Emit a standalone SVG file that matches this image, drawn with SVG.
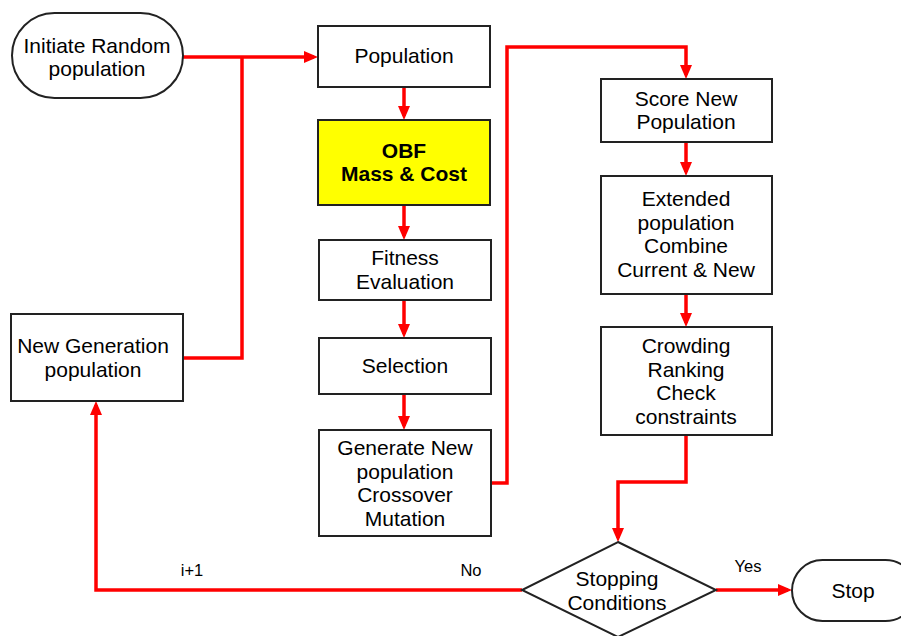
<svg xmlns="http://www.w3.org/2000/svg" width="901" height="636" viewBox="0 0 901 636">
<style>
.box{fill:#fff;stroke:#222;stroke-width:2}
.obf{fill:#ffff00;stroke:#222;stroke-width:2}
.t{font-family:"Liberation Sans",Arial,sans-serif;font-size:21px;fill:#000;text-anchor:middle}
.b{font-weight:bold}
.l{font-family:"Liberation Sans",Arial,sans-serif;font-size:16.5px;fill:#000;text-anchor:middle}
.c{fill:none;stroke:#ff0000;stroke-width:3.5}
</style>
<defs>
<marker id="ah" markerUnits="userSpaceOnUse" viewBox="0 0 14 12" markerWidth="14" markerHeight="12" refX="10" refY="6" orient="auto">
<path d="M0,0 L14,6 L0,12 z" fill="#ff0000"/>
</marker>
</defs>
<rect width="901" height="636" fill="#fff"/>
<g id="connectors">
<path class="c" d="M183,57 H314" marker-end="url(#ah)"/>
<path class="c" d="M183,358 H242 V57"/>
<path class="c" d="M404,87 V116" marker-end="url(#ah)"/>
<path class="c" d="M404,205 V236" marker-end="url(#ah)"/>
<path class="c" d="M404,300 V334" marker-end="url(#ah)"/>
<path class="c" d="M404,394 V426" marker-end="url(#ah)"/>
<path class="c" d="M491,483 H507 V47 H686 V75" marker-end="url(#ah)"/>
<path class="c" d="M686,142 V172" marker-end="url(#ah)"/>
<path class="c" d="M686,294 V323" marker-end="url(#ah)"/>
<path class="c" d="M686,435 V482 H618 V538" marker-end="url(#ah)"/>
<path class="c" d="M716,590 H788" marker-end="url(#ah)"/>
<path class="c" d="M522,590 H96 V405" marker-end="url(#ah)"/>
</g>
<g id="initiate">
<rect class="box" x="12" y="13" width="171" height="85" rx="42.5"/>
<text class="t" x="97" y="53">Initiate Random</text>
<text class="t" x="97" y="76">population</text>
</g>
<g id="population">
<rect class="box" x="318" y="26" width="172" height="61"/>
<text class="t" x="404" y="63">Population</text>
</g>
<g id="obf">
<rect class="obf" x="318" y="120" width="172" height="85"/>
<text class="t b" x="404" y="158">OBF</text>
<text class="t b" x="404" y="181">Mass &amp; Cost</text>
</g>
<g id="fitness">
<rect class="box" x="319" y="240" width="172" height="60"/>
<text class="t" x="405" y="265">Fitness</text>
<text class="t" x="405" y="289">Evaluation</text>
</g>
<g id="selection">
<rect class="box" x="319" y="338" width="172" height="56"/>
<text class="t" x="405" y="373">Selection</text>
</g>
<g id="generate">
<rect class="box" x="319" y="430" width="172" height="106"/>
<text class="t" x="405" y="455">Generate New</text>
<text class="t" x="405" y="479">population</text>
<text class="t" x="405" y="502">Crossover</text>
<text class="t" x="405" y="526">Mutation</text>
</g>
<g id="score">
<rect class="box" x="601" y="79" width="171" height="63"/>
<text class="t" x="686" y="106">Score New</text>
<text class="t" x="686" y="129">Population</text>
</g>
<g id="extended">
<rect class="box" x="601" y="176" width="171" height="118"/>
<text class="t" x="686" y="206">Extended</text>
<text class="t" x="686" y="230">population</text>
<text class="t" x="686" y="253">Combine</text>
<text class="t" x="686" y="277">Current &amp; New</text>
</g>
<g id="crowding">
<rect class="box" x="601" y="327" width="171" height="108"/>
<text class="t" x="686" y="353">Crowding</text>
<text class="t" x="686" y="377">Ranking</text>
<text class="t" x="686" y="400">Check</text>
<text class="t" x="686" y="424">constraints</text>
</g>
<g id="newgen">
<rect class="box" x="11" y="314" width="172" height="87"/>
<text class="t" x="93" y="353">New Generation</text>
<text class="t" x="93" y="377">population</text>
</g>
<g id="stopping">
<polygon class="box" points="618,542 716,590 618,637 522,590"/>
<text class="t" x="617" y="586">Stopping</text>
<text class="t" x="617" y="610">Conditions</text>
</g>
<g id="stop">
<rect class="box" x="792" y="560" width="124" height="61" rx="30.5"/>
<text class="t" x="853" y="598">Stop</text>
</g>
<g id="labels">
<text class="l" x="192" y="576">i+1</text>
<text class="l" x="471" y="576">No</text>
<text class="l" x="748" y="572">Yes</text>
</g>
</svg>
